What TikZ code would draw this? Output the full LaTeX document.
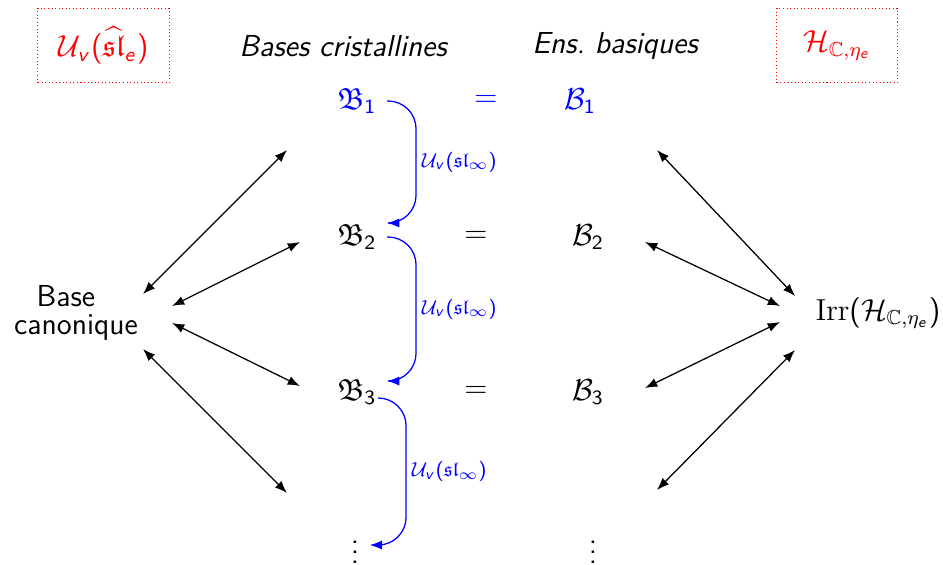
\documentclass[12pt,tikz,border=0pt]{standalone}
\usepackage{amsmath,amssymb}
\usepackage{tikz}
\usetikzlibrary{arrows.meta}
\renewcommand{\familydefault}{\sfdefault}
% sans digits and letters in math, roman Irr
\DeclareSymbolFont{operators}{OT1}{cmss}{m}{n}
\DeclareSymbolFont{sfitalic}{OT1}{cmss}{m}{sl}
\DeclareMathSymbol{v}{\mathalpha}{sfitalic}{`v}
\DeclareMathSymbol{e}{\mathalpha}{sfitalic}{`e}
\DeclareMathAlphabet{\mathrm}{OT1}{cmr}{m}{n}

\begin{document}
\begin{tikzpicture}[
  x=0.13889mm, y=-0.13889mm,
  tagbox/.style={
    draw=red,
    densely dotted,
    text=red,
    minimum width=1.82cm,
    minimum height=1.04cm
  },
  coltitle/.style={font=\itshape},
  link/.style={{Latex[length=1.7mm]}-{Latex[length=1.7mm]}, line width=0.5pt},
  uvflow/.style={blue, -{Latex[length=1.7mm]}, rounded corners=11pt, line width=0.5pt},
  uvlabel/.style={right, font=\scriptsize, text=blue, inner sep=2pt}
]
\useasboundingbox (0,0) rectangle (943,564);

\node[tagbox] (uhat) at (103.5,45.5) {$\mathcal{U}_v(\widehat{\mathfrak{sl}}_e)$};
\node[tagbox, minimum width=1.67cm] (hecke) at (837,45.5) {$\mathcal{H}_{\mathbb{C},\eta_e}$};
\node[coltitle] (tcryst) at (343,46) {Bases cristallines};
\node[coltitle] (tens) at (615,46) {Ens.\ basiques};

\node[text=blue] (b1) at (357,101) {$\mathfrak{B}_1$};
\node[text=blue] (eq1) at (486,101) {$=$};
\node[text=blue] (e1) at (580,101) {$\mathcal{B}_1$};
\node (b2) at (357,237) {$\mathfrak{B}_2$};
\node (eq2) at (476,237) {$=$};
\node (e2) at (588,237) {$\mathcal{B}_2$};
\node (b3) at (357,392) {$\mathfrak{B}_3$};
\node (eq3) at (476,392) {$=$};
\node (e3) at (588,392) {$\mathcal{B}_3$};
\node (bdots) at (355,545) {$\vdots$};
\node (edots) at (593,545) {$\vdots$};

\node[align=center] (canon) at (76,313) {Base\kern8pt\\[-3.5pt]canonique};
\node (irr) at (878,313) {$\mathrm{Irr}(\mathcal{H}_{\mathbb{C},\eta_e})$};

% ends of the links
\coordinate (c1) at (143,294);
\coordinate (c2) at (172,306);
\coordinate (c3) at (172,323);
\coordinate (c4) at (143,349);
\coordinate (m1) at (287,150);
\coordinate (m2) at (300,242);
\coordinate (m3) at (300,386);
\coordinate (m4) at (287,493);
\coordinate (n1) at (657,150);
\coordinate (n2) at (645,242);
\coordinate (n3) at (645,388);
\coordinate (n4) at (657,490);
\coordinate (i1) at (795,296);
\coordinate (i2) at (780,306);
\coordinate (i3) at (780,322);
\coordinate (i4) at (795,350);

\draw[link] (c1) -- (m1);
\draw[link] (c2) -- (m2);
\draw[link] (c3) -- (m3);
\draw[link] (c4) -- (m4);
\draw[link] (n1) -- (i1);
\draw[link] (n2) -- (i2);
\draw[link] (n3) -- (i3);
\draw[link] (n4) -- (i4);

\draw[uvflow] (b1.east) -- ++(29,0) |- node[uvlabel, pos=0.25] {$\mathcal{U}_v(\mathfrak{sl}_\infty)$} (b2.25);
\draw[uvflow] (b2.east) -- ++(29,0) |- node[uvlabel, pos=0.25] {$\mathcal{U}_v(\mathfrak{sl}_\infty)$} (b3.20);
\draw[uvflow] ([shift={(-8,6)}]b3.east) -- ++(27,0) |- node[uvlabel, pos=0.25] {$\mathcal{U}_v(\mathfrak{sl}_\infty)$} (bdots.east);
\end{tikzpicture}
\end{document}
